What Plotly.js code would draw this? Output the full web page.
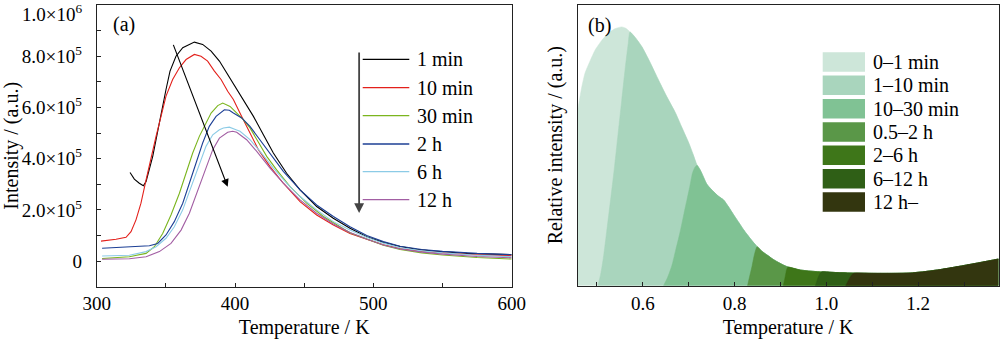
<!DOCTYPE html>
<html><head><meta charset="utf-8">
<script src="https://cdn.plot.ly/plotly-3.0.1.min.js"></script>
<style>html,body{margin:0;padding:0;background:#fff}#plot{width:1000px;height:339px}</style>
</head><body><div id="plot"></div>
<script>
// ---------- Panel (a): intensity (units of 1e5) vs temperature (K) ----------
const seriesNames = ['1 min', '10 min', '30 min', '2 h', '6 h', '12 h'];
const seriesColors = ['#000000', '#e3201b', '#7bb51e', '#1c3f95', '#8ccbe6', '#a25ea3'];

const t1min = [324.1,327.2,330.8,333.7,335.7,338.1,340.5,342.9,346.5,350.1,353.0,357.3,362.2,367.0,370.6,376.6,382.7,388.7,394.7,400.7,406.0,413.3,420.5,427.7,437.3,447.0,459.0,471.0,483.1,495.2,507.2,519.3,531.3,543.4,567.5,600];
const i1min = [3.46,3.20,3.04,2.94,3.11,3.56,4.09,4.74,5.78,6.70,7.42,8.00,8.33,8.46,8.55,8.46,8.20,7.81,7.28,6.76,6.31,5.65,4.93,4.22,3.43,2.78,2.13,1.67,1.28,0.95,0.73,0.57,0.46,0.39,0.30,0.25];

const t10min = [303.1,314.0,321.2,324.8,328.4,332.0,335.7,339.3,342.9,346.5,350.1,354.9,359.8,364.6,370.6,375.4,380.2,385.1,389.9,394.7,398.8,404.8,410.8,416.9,425.3,434.9,447.0,459.0,471.1,483.1,495.2,507.2,519.3,535.0,550.0,575.0,600];
const i10min = [0.78,0.85,0.93,1.15,1.61,2.26,3.17,4.09,4.87,5.65,6.44,7.09,7.55,7.87,8.07,8.00,7.81,7.42,7.09,6.63,6.31,5.65,5.00,4.35,3.69,3.04,2.32,1.80,1.41,1.08,0.85,0.64,0.49,0.38,0.32,0.25,0.21];

const t30min = [303.9,323.6,335.7,341.7,347.7,353.7,359.8,364.6,369.4,374.2,377.8,382.7,387.5,391.1,396.4,401.2,406.0,410.8,415.7,422.9,430.1,439.8,451.8,463.9,475.9,483.1,495.2,507.2,519.3,535.0,550.0,575.0,600];
const i30min = [0.10,0.17,0.30,0.56,1.08,1.80,2.65,3.43,4.22,4.87,5.26,5.78,6.07,6.17,6.04,5.78,5.52,5.20,4.74,4.09,3.56,2.91,2.26,1.74,1.34,1.11,0.86,0.62,0.45,0.32,0.24,0.14,0.08];

const t2h = [303.9,323.6,338.1,344.1,350.1,356.1,362.2,367.0,371.8,376.6,381.4,386.3,392.3,395.9,398.8,404.8,410.8,418.1,425.3,434.9,447.0,459.0,471.1,483.1,495.2,507.2,519.3,535.0,550.0,575.0,600];
const i2h = [0.50,0.56,0.60,0.69,1.02,1.54,2.26,3.04,3.83,4.61,5.26,5.65,5.91,5.89,5.78,5.59,5.26,4.74,4.22,3.50,2.78,2.19,1.74,1.34,1.00,0.76,0.58,0.45,0.38,0.30,0.25];

const t6h = [303.9,323.6,335.7,342.9,350.1,356.1,362.2,368.2,374.2,379.0,383.9,388.7,391.6,395.9,400.7,403.6,410.8,418.1,427.7,437.3,447.0,459.0,471.1,483.1,495.2,507.2,519.3,535.0,550.0,575.0,600];
const i6h = [0.20,0.23,0.37,0.56,0.89,1.34,2.00,2.91,3.83,4.48,4.93,5.13,5.20,5.23,5.13,5.07,4.74,4.28,3.63,3.04,2.52,2.00,1.54,1.21,0.93,0.70,0.52,0.40,0.32,0.23,0.17];

const t12h = [303.9,323.6,335.7,345.3,353.7,361.0,367.0,373.0,379.0,383.9,388.7,394.7,398.3,401.2,408.4,415.7,425.3,434.9,447.0,459.0,471.1,483.1,495.2,507.2,519.3,535.0,550.0,575.0,600];
const i12h = [0.07,0.09,0.17,0.37,0.69,1.21,1.87,2.78,3.69,4.35,4.80,5.03,5.07,5.03,4.74,4.28,3.63,3.04,2.39,1.87,1.45,1.12,0.86,0.63,0.47,0.35,0.27,0.18,0.13];

const tempX = [t1min, t10min, t30min, t2h, t6h, t12h];
const intenY = [i1min, i10min, i30min, i2h, i6h, i12h];

const aTickVals = [0, 2, 4, 6, 8];
const aTickText = ['0', '2.0×10<sup>5</sup>', '4.0×10<sup>5</sup>', '6.0×10<sup>5</sup>', '8.0×10<sup>5</sup>'];
const aTopTickText = '1.0×10<sup>6</sup>';

// ---------- Panel (b): relative intensity vs temperature ----------
const envX = [0.458,0.467,0.474,0.485,0.496,0.510,0.525,0.540,0.554,0.563,0.572,0.585,0.598,0.615,0.634,0.652,0.671,0.685,0.700,0.710,0.718,0.725,0.740,0.754,0.765,0.776,0.787,0.798,0.809,0.820,0.835,0.849,0.860,0.871,0.882,0.893,0.914,0.943,0.980,1.020,1.060,1.100,1.150,1.180,1.213,1.250,1.286,1.330,1.375];
const envY = [0.625,0.708,0.757,0.800,0.839,0.872,0.899,0.915,0.921,0.916,0.903,0.880,0.850,0.797,0.732,0.673,0.615,0.563,0.508,0.465,0.429,0.412,0.360,0.335,0.318,0.305,0.280,0.252,0.225,0.198,0.166,0.139,0.122,0.109,0.096,0.085,0.068,0.056,0.050,0.047,0.045,0.044,0.044,0.045,0.050,0.058,0.068,0.081,0.095];

const bNames = ['0–1 min', '1–10 min', '10–30 min', '0.5–2 h', '2–6 h', '6–12 h', '12 h–'];
const bColors = ['#cde6d9', '#a9d5bd', '#80c294', '#5a9748', '#3e7619', '#2f5f16', '#33360f'];
// rising edge of each later component (x, relative intensity)
const edgeX = [
  [],
  [0.502,0.508,0.514,0.521,0.530,0.538,0.546,0.554,0.562,0.568,0.572],
  [0.645,0.654,0.663,0.672,0.681,0.690,0.696,0.702,0.708,0.713,0.718],
  [0.828,0.833,0.838,0.843,0.849],
  [0.906,0.910,0.913,0.916],
  [0.976,0.981,0.986,0.990],
  [1.042,1.050,1.056,1.062]
];
const edgeY = [
  [],
  [0,0.04,0.10,0.19,0.31,0.42,0.54,0.66,0.78,0.86,0.903],
  [0,0.03,0.07,0.13,0.19,0.26,0.305,0.35,0.40,0.42,0.429],
  [0,0.035,0.07,0.11,0.139],
  [0,0.03,0.055,0.066],
  [0,0.025,0.043,0.050],
  [0,0.025,0.040,0.045]
];

const FONT = 'Liberation Serif, Times New Roman, serif';
const traces = [];
for (let k = 0; k < seriesNames.length; k++) {
  traces.push({type: 'scatter', mode: 'lines', x: tempX[k], y: intenY[k], name: seriesNames[k],
    line: {color: seriesColors[k], width: 1.1}, xaxis: 'x', yaxis: 'y', showlegend: false, hoverinfo: 'skip'});
}
for (let k = 0; k < bNames.length; k++) {
  const ex = edgeX[k], ey = edgeY[k];
  const last = ex.length ? ex[ex.length - 1] : -Infinity;
  const xs = ex.slice(), ys = ey.slice();
  for (let j = 0; j < envX.length; j++) { if (envX[j] > last + 1e-9) { xs.push(envX[j]); ys.push(envY[j]); } }
  traces.push({type: 'scatter', mode: 'lines', x: xs, y: ys, name: bNames[k], fill: 'tozeroy',
    fillcolor: bColors[k], line: {color: bColors[k], width: 0.5, shape: 'spline', smoothing: 0.6},
    xaxis: 'x2', yaxis: 'y2', showlegend: false, hoverinfo: 'skip'});
}

// legend (a)
const shapes = [], annotations = [];
const aLegY = [59.3, 87.7, 115.7, 144, 171.7, 199.7];
for (let k = 0; k < seriesNames.length; k++) {
  const yp = 1 - aLegY[k] / 339;
  shapes.push({type: 'line', xref: 'paper', yref: 'paper', x0: 0.3627, x1: 0.4093, y0: yp, y1: yp, line: {color: seriesColors[k], width: 1.3}});
  annotations.push({xref: 'paper', yref: 'paper', x: 0.4145, y: yp, xanchor: 'left', yanchor: 'middle', text: seriesNames[k], showarrow: false, font: {family: FONT, size: 20, color: '#000'}});
}
// legend (b)
const bLegY = [62, 85.3, 108.7, 132, 155.3, 178.7, 202];
for (let k = 0; k < bNames.length; k++) {
  const yc = bLegY[k];
  shapes.push({type: 'rect', xref: 'paper', yref: 'paper', x0: 0.8227, x1: 0.865, y0: 1 - (yc + 9.7) / 339, y1: 1 - (yc - 9.7) / 339, fillcolor: bColors[k], line: {width: 0}});
  annotations.push({xref: 'paper', yref: 'paper', x: 0.8712, y: 1 - yc / 339, xanchor: 'left', yanchor: 'middle', text: bNames[k], showarrow: false, font: {family: FONT, size: 20, color: '#000'}});
}
// top y tick label of (a), kept inside the picture
annotations.push({xref: 'paper', yref: 'paper', x: 0.0835, y: 1 - 13 / 339, xanchor: 'right', yanchor: 'middle', text: aTopTickText, showarrow: false, font: {family: FONT, size: 19, color: '#000'}});
annotations.push({xref: 'paper', yref: 'paper', x: 0.1243, y: 1 - 24.5 / 339, xanchor: 'center', yanchor: 'middle', text: '(a)', showarrow: false, font: {family: FONT, size: 20, color: '#000'}});
annotations.push({xref: 'paper', yref: 'paper', x: 0.5995, y: 1 - 25.5 / 339, xanchor: 'center', yanchor: 'middle', text: '(b)', showarrow: false, font: {family: FONT, size: 20, color: '#000'}});
// arrows in (a)
annotations.push({xref: 'x', yref: 'y', axref: 'x', ayref: 'y', x: 394.7, y: 2.9, ax: 355, ay: 8.5, text: '', showarrow: true, arrowhead: 2, arrowsize: 1.4, arrowwidth: 1.1, arrowcolor: '#000'});
annotations.push({xref: 'x', yref: 'y', axref: 'x', ayref: 'y', x: 489.7, y: 1.875, ax: 489.7, ay: 8.2, text: '', showarrow: true, arrowhead: 2, arrowsize: 1.1, arrowwidth: 1.8, arrowcolor: '#444'});

const axCommon = {showline: true, mirror: true, linecolor: '#222', linewidth: 1, showgrid: false, zeroline: false,
  ticks: 'inside', ticklen: 4, tickcolor: '#222', tickfont: {family: FONT, size: 19, color: '#000'}};

const layout = {
  width: 1000, height: 339, margin: {l: 0, r: 0, t: 0, b: 0}, paper_bgcolor: '#fff', plot_bgcolor: '#fff',
  showlegend: false,
  xaxis: Object.assign({}, axCommon, {domain: [0.0967, 0.5117], range: [300, 600], tickmode: 'linear', tick0: 300, dtick: 100,
    minor: {ticks: 'inside', ticklen: 4, dtick: 50, tick0: 300, tickcolor: '#222'},
    title: {text: 'Temperature / K', font: {family: FONT, size: 20, color: '#000'}, standoff: 7}, anchor: 'y'}),
  yaxis: Object.assign({}, axCommon, {domain: [0.1543, 0.9853], range: [-1, 10], tickmode: 'array', tickvals: aTickVals, ticktext: aTickText,
    minor: {ticks: 'inside', ticklen: 4, tickmode: 'array', tickvals: [-1, 1, 3, 5, 7, 9], tickcolor: '#222'},
    ticklabelstandoff: 10,
    title: {text: 'Intensity / (a.u.)', font: {family: FONT, size: 20, color: '#000'}, standoff: 9}, anchor: 'x'}),
  xaxis2: Object.assign({}, axCommon, {domain: [0.5777, 0.9985], range: [0.458, 1.375], tickmode: 'linear', tick0: 0, dtick: 0.2, tickformat: '.1f',
    minor: {ticks: 'inside', ticklen: 4, dtick: 0.1, tick0: 0, tickcolor: '#222'},
    title: {text: 'Temperature / K', font: {family: FONT, size: 20, color: '#000'}, standoff: 7}, anchor: 'y2'}),
  yaxis2: Object.assign({}, axCommon, {domain: [0.1572, 0.9861], range: [0, 1], ticks: '', showticklabels: false,
    title: {text: 'Relative intensity / (a.u.)', font: {family: FONT, size: 20, color: '#000'}, standoff: 8}, anchor: 'x2'}),
  shapes: shapes, annotations: annotations
};
Plotly.newPlot('plot', traces, layout, {staticPlot: true, displayModeBar: false});
</script></body></html>
